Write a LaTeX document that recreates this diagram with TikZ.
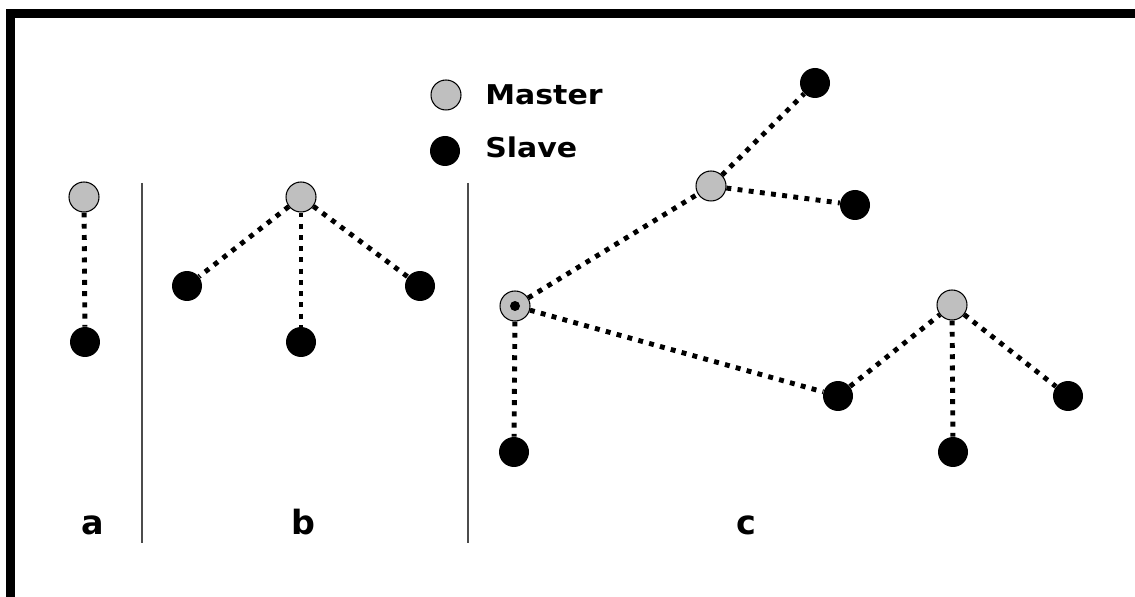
\documentclass[tikz,border=0pt]{standalone}
\usepackage{fontspec}
\newfontfamily\lgdfont[FakeStretch=1.1]{DejaVu Sans}
\newfontfamily\tagfont{DejaVu Sans}
\usetikzlibrary{positioning}

\begin{document}
\begin{tikzpicture}[x=0.02cm, y=-0.02cm,
  master/.style={circle, draw=black, line width=0.6pt, fill=black!25, minimum size=0.6cm, inner sep=0pt},
  slave/.style={circle, fill=black, minimum size=0.6cm, inner sep=0pt},
  link/.style={line width=2.8pt, dash pattern=on 2.8pt off 3.6pt, black},
  sep/.style={line width=0.9pt, black!70},
  lgd/.style={anchor=base west, font=\lgdfont\bfseries\fontsize{15.5}{18}\selectfont, inner sep=0pt},
  tag/.style={anchor=base, font=\tagfont\bfseries\fontsize{19}{22}\selectfont, inner sep=0pt},
]
\useasboundingbox (0,0) rectangle (1135,597);
% frame (top and left only)
\draw[line width=5pt] (10.5,597) -- (10.5,13.5) -- (1135,13.5);
% ---- legend ----
\node[master] (Lm) at (446,95) {};
\node[slave] (Ls) at (445,151) {};
\node[lgd] (LmT) at (485,105) {Master};
\node[lgd] (LsT) at (485,158) {Slave};
% ---- separators ----
\draw[sep] (142,183) -- (142,543);
\draw[sep] (468,183) -- (468,543);
% ---- a ----
\node[master] (ma) at (84,197) {};
\node[slave] (sa) at (85,342) {};
\draw[link] (ma) -- (sa);
% ---- b ----
\node[master] (mb) at (301,197) {};
\node[slave] (sb1) at (187,286) {};
\node[slave] (sb2) at (301,342) {};
\node[slave] (sb3) at (420,286) {};
\foreach \s in {sb1,sb2,sb3} \draw[link] (mb) -- (\s);
% ---- c ----
\node[master] (mc1) at (515,306) {};
\node[circle, fill=black, minimum size=0.2cm, inner sep=0pt] (mc1dot) at (mc1) {};
\node[master] (mc2) at (711,186) {};
\node[master] (mc3) at (952,305) {};
\node[slave] (sc1) at (815,83) {};
\node[slave] (sc2) at (855,205) {};
\node[slave] (sc3) at (514,452) {};
\node[slave] (sc4) at (838,396) {};
\node[slave] (sc5) at (953,452) {};
\node[slave] (sc6) at (1068,396) {};
\draw[link] (mc1) -- (mc2);
\draw[link] (mc1) -- (sc3);
\draw[link] (mc1) -- (sc4);
\draw[link] (sc4) -- (mc3);
\foreach \s in {sc1,sc2} \draw[link] (mc2) -- (\s);
\foreach \s in {sc5,sc6} \draw[link] (mc3) -- (\s);
% ---- panel tags ----
\node[tag] (ta) at (93,534) {a};
\node[tag] (tb) at (303,534) {b};
\node[tag] (tc) at (746,534) {c};
\end{tikzpicture}
\end{document}
